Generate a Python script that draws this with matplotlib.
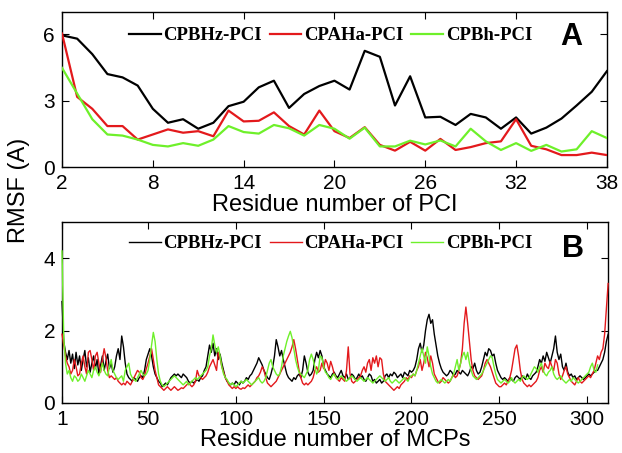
import matplotlib
matplotlib.use("Agg")
import matplotlib.pyplot as plt
import numpy as np

# ---------------- data ----------------
series_names = ["CPBHz-PCI", "CPAHa-PCI", "CPBh-PCI"]
series_colors = ["#000000", "#e3191c", "#6ef02a"]

pci_residues = list(range(2, 39))
pci_cpbhz = [5.95, 5.8, 5.1, 4.2, 4.05, 3.68, 2.63, 2.0, 2.16, 1.73, 2.0, 2.75, 2.95,
             3.6, 3.9, 2.67, 3.3, 3.66, 3.9, 3.5, 5.25, 4.98, 2.78, 4.1, 2.24,
             2.27, 1.9, 2.4, 2.24, 1.73, 2.24, 1.51, 1.78, 2.19, 2.78, 3.4, 4.33]
pci_cpaha = [6.03, 3.17, 2.63, 1.85, 1.85, 1.24, 1.47, 1.7, 1.55, 1.62, 1.39, 2.55, 2.06,
             2.09, 2.47, 1.85, 1.47, 2.55, 1.62, 1.31, 1.8, 1.0, 0.74, 1.14, 0.74,
             1.27, 0.77, 0.9, 1.08, 1.16, 2.16, 0.96, 0.8, 0.54, 0.54, 0.65, 0.54]
pci_cpbh = [4.48, 3.32, 2.16, 1.47, 1.42, 1.24, 1.0, 0.93, 1.08, 0.96, 1.24, 1.85, 1.58,
            1.51, 1.9, 1.75, 1.42, 1.9, 1.73, 1.28, 1.78, 0.93, 0.93, 1.19, 1.02,
            1.2, 0.93, 1.73, 1.16, 0.77, 1.08, 0.73, 1.0, 0.7, 0.8, 1.62, 1.31]

mcp_cpbhz = [
    2.8, 1.7, 1.4, 1.2, 1.45, 1.1, 1.35, 0.95, 1.4, 1.05,
    1.3, 0.9, 1.2, 1.45, 1.0, 1.25, 0.85, 1.1, 1.3, 0.95,
    1.2, 0.8, 1.05, 1.3, 0.9, 1.15, 1.35, 0.95, 1.1, 0.85,
    1.0, 1.3, 1.5, 1.2, 1.85, 1.55, 1.1, 0.8, 0.7, 0.65,
    0.6, 0.7, 0.65, 0.6, 0.7, 0.75, 0.7, 0.9, 1.2, 1.35,
    1.5, 1.3, 1.0, 0.8, 0.7, 0.6, 0.55, 0.45, 0.5, 0.55,
    0.5, 0.6, 0.7, 0.75, 0.8, 0.75, 0.8, 0.75, 0.7, 0.8,
    0.75, 0.7, 0.6, 0.55, 0.6, 0.55, 0.6, 0.65, 0.6, 0.7,
    0.75, 0.9, 1.0, 1.3, 1.6, 1.4, 1.65, 1.3, 1.5, 1.2,
    1.35, 1.1, 0.9, 0.7, 0.6, 0.55, 0.5, 0.55, 0.5, 0.6,
    0.55, 0.5, 0.6, 0.55, 0.6, 0.7, 0.65, 0.75, 0.8, 0.9,
    1.0, 1.1, 1.25, 1.15, 1.05, 0.9, 0.8, 0.7, 0.65, 0.8,
    1.0, 1.3, 1.75, 1.55, 1.3, 1.45, 1.2, 1.0, 0.8, 0.7,
    0.65, 0.6, 0.7, 0.65, 0.75, 0.8, 0.7, 0.9, 1.3, 1.1,
    0.85, 0.75, 0.8, 0.9, 1.2, 1.4, 1.25, 1.45, 1.3, 1.0,
    0.9, 0.8, 0.75, 0.7, 0.8, 0.85, 0.75, 0.7, 0.8, 0.9,
    0.75, 0.7, 0.8, 0.65, 0.7, 0.8, 0.75, 0.65, 0.7, 0.8,
    0.7, 0.75, 0.65, 0.6, 0.7, 0.8, 0.75, 0.6, 0.65, 0.55,
    0.6, 0.65, 0.55, 0.6, 0.75, 0.8, 0.7, 0.8, 0.75, 0.85,
    0.8, 0.7, 0.75, 0.8, 0.7, 0.85, 0.8, 0.75, 0.9, 0.85,
    0.9, 1.0, 1.2, 1.5, 1.65, 1.4, 1.6, 2.0, 2.3, 2.45,
    2.2, 2.3, 1.9, 1.6, 1.3, 1.1, 0.95, 0.85, 0.8, 0.75,
    0.8, 0.9, 0.85, 0.75, 0.8, 0.9, 0.85, 0.8, 0.9, 0.85,
    0.8, 0.75, 0.85, 1.0, 0.95, 1.1, 0.9, 0.8, 0.85, 1.0,
    1.2, 1.4, 1.3, 1.5, 1.45, 1.3, 1.35, 1.1, 0.9, 0.8,
    0.7, 0.65, 0.7, 0.65, 0.6, 0.7, 0.65, 0.6, 0.7, 0.75,
    0.7, 0.65, 0.75, 0.7, 0.65, 0.8, 0.7, 0.65, 0.75, 0.8,
    0.85, 1.0, 1.2, 1.1, 1.3, 1.15, 1.4, 1.25, 1.1, 1.3,
    1.5, 1.85, 1.4, 1.2, 1.35, 1.0, 0.9, 1.1, 0.85, 0.75,
    0.8, 0.7, 0.75, 0.65, 0.7, 0.75, 0.7, 0.65, 0.7, 0.75,
    0.8, 0.75, 0.8, 0.85, 0.9, 0.9, 1.0, 1.1, 1.2, 1.4, 1.7, 1.9]

mcp_cpaha = [
    1.9, 1.6, 1.3, 1.1, 1.0, 0.8, 0.9, 1.2, 1.0, 0.75,
    0.8, 1.1, 1.3, 1.0, 0.8, 1.4, 1.45, 1.2, 0.9, 1.3,
    1.4, 1.1, 0.85, 1.2, 1.5, 1.25, 0.9, 0.7, 0.75, 0.7,
    0.65, 0.7, 0.6, 0.55, 0.5, 0.55, 0.5, 0.6, 0.55, 0.5,
    0.6, 0.7, 0.8, 0.9, 0.85, 0.7, 0.65, 0.75, 0.95, 1.1,
    1.3, 1.5, 1.2, 0.9, 0.7, 0.5, 0.45, 0.4, 0.35, 0.4,
    0.45, 0.4, 0.35, 0.4, 0.45, 0.4, 0.35, 0.38, 0.42, 0.4,
    0.45, 0.5, 0.55, 0.5, 0.45, 0.5, 0.6, 0.9, 0.75, 0.7,
    0.65, 0.7, 0.75, 0.85, 1.0, 1.1, 1.2, 1.05, 0.9, 1.4,
    1.25, 1.0, 0.85, 0.7, 0.6, 0.5, 0.45, 0.4, 0.45, 0.4,
    0.45, 0.4, 0.38, 0.42, 0.4, 0.45, 0.5, 0.45, 0.5, 0.55,
    0.6, 0.7, 0.75, 0.85, 1.0, 0.9, 0.7, 0.55, 0.5, 0.45,
    0.5, 0.55, 0.6, 0.7, 0.8, 0.9, 1.0, 1.1, 1.2, 1.3,
    1.4, 1.55, 1.75, 1.5, 1.2, 0.9, 0.7, 0.55, 0.5, 0.55,
    0.5, 0.55, 0.6, 0.7, 0.9, 1.0, 0.85, 0.9, 1.1, 0.95,
    1.2, 1.1, 0.9, 1.15, 1.0, 0.8, 0.7, 0.65, 0.6, 0.7,
    0.65, 0.6, 0.9, 1.55, 0.8, 0.6, 0.55, 0.6, 0.65, 0.7,
    0.75, 0.9, 1.0, 0.85, 1.1, 1.2, 0.9, 1.25, 1.1, 1.3,
    1.0, 1.25, 1.2, 0.8, 0.6, 0.55, 0.5, 0.45, 0.4, 0.35,
    0.4, 0.45, 0.4, 0.5, 0.55, 0.6, 0.7, 0.65, 0.75, 0.7,
    0.8, 0.75, 0.9, 1.0, 1.2, 0.9, 1.1, 1.4, 1.25, 1.0,
    1.3, 1.1, 0.8, 0.7, 0.6, 0.55, 0.6, 0.7, 0.65, 0.6,
    0.55, 0.6, 0.7, 0.8, 0.7, 0.75, 0.9, 1.1, 1.5, 2.2,
    2.65, 2.2, 1.7, 1.2, 0.9, 0.75, 0.7, 0.65, 0.7, 0.75,
    0.9, 1.1, 1.2, 1.1, 1.0, 0.85, 0.7, 0.55, 0.5, 0.45,
    0.45, 0.5, 0.55, 0.5, 0.6, 0.7, 0.9, 1.2, 1.5, 1.6,
    1.3, 0.9, 0.65, 0.55, 0.5, 0.45, 0.5, 0.45, 0.5, 0.55,
    0.6, 0.7, 0.9, 1.0, 0.85, 1.1, 1.0, 0.95, 1.15, 1.0,
    0.9, 1.2, 1.1, 0.8, 0.65, 0.75, 0.9, 1.0, 0.8, 0.7,
    0.6, 0.55, 0.5, 0.6, 0.7, 0.6, 0.55, 0.6, 0.65, 0.7,
    0.75, 0.7, 0.8, 0.9, 1.1, 1.3, 1.2, 1.4, 1.5, 1.9, 2.6, 3.3]

mcp_cpbh = [
    4.2, 1.8, 1.1, 0.8, 0.9, 0.7, 0.6, 0.75, 0.7, 0.6,
    0.65, 0.8, 0.7, 0.6, 0.75, 0.9, 0.8, 0.7, 0.9, 1.0,
    0.85, 0.75, 0.9, 1.1, 0.9, 0.8, 0.75, 1.0, 1.2, 0.9,
    0.8, 0.7, 0.65, 0.7, 0.75, 0.6, 0.9, 1.0, 1.1, 0.8,
    0.7, 0.65, 0.6, 0.7, 0.8, 0.9, 0.8, 0.75, 0.8, 0.9,
    1.2, 1.6, 1.95, 1.7, 1.2, 0.8, 0.6, 0.5, 0.45, 0.5,
    0.55, 0.6, 0.65, 0.7, 0.75, 0.7, 0.65, 0.6, 0.55, 0.5,
    0.55, 0.6, 0.5, 0.55, 0.6, 0.65, 0.7, 0.65, 0.7, 0.75,
    0.8, 0.85, 0.9, 1.0, 1.3, 1.5, 1.88, 1.6, 1.4, 1.55,
    1.3, 1.0, 0.8, 0.7, 0.65, 0.55, 0.5, 0.55, 0.5, 0.45,
    0.5, 0.55, 0.6, 0.55, 0.6, 0.65, 0.6, 0.55, 0.5, 0.55,
    0.6, 0.65, 0.7, 0.6, 0.55, 0.6, 0.7, 0.9, 1.1, 1.2,
    1.0, 0.9, 0.8, 0.75, 0.8, 1.0, 1.3, 1.5, 1.7, 1.85,
    1.98, 1.8, 1.5, 1.2, 1.0, 0.85, 0.8, 0.75, 0.7, 0.8,
    0.9, 1.2, 1.35, 1.2, 1.0, 0.8, 0.9, 1.3, 1.25, 1.0,
    0.85, 0.8, 0.7, 0.65, 0.75, 0.8, 0.7, 0.65, 0.7, 0.75,
    0.7, 0.65, 0.6, 0.65, 0.7, 0.75, 0.7, 0.65, 0.6, 0.65,
    0.7, 0.65, 0.6, 0.65, 0.7, 0.65, 0.6, 0.55, 0.6, 0.65,
    0.7, 0.75, 0.7, 0.65, 0.6, 0.65, 0.7, 0.6, 0.55, 0.6,
    0.65, 0.6, 0.55, 0.6, 0.65, 0.7, 0.65, 0.6, 0.7, 0.75,
    0.8, 0.75, 0.9, 1.1, 1.3, 1.5, 1.3, 1.1, 1.55, 1.3,
    1.0, 0.8, 0.7, 0.6, 0.55, 0.6, 0.65, 0.6, 0.55, 0.6,
    0.65, 0.6, 0.7, 0.8, 1.0, 1.2, 0.9, 1.1, 1.3, 1.4,
    1.2, 1.4, 1.1, 0.9, 0.75, 0.7, 0.65, 0.7, 0.75, 0.8,
    0.9, 1.0, 1.1, 1.2, 1.3, 1.25, 1.0, 0.8, 0.65, 0.6,
    0.55, 0.6, 0.65, 0.6, 0.55, 0.6, 0.7, 0.6, 0.55, 0.6,
    0.65, 0.6, 0.7, 0.75, 0.7, 0.65, 0.7, 0.8, 0.9, 1.0,
    0.95, 0.85, 1.0, 1.1, 0.9, 0.8, 0.75, 0.85, 0.9, 1.0,
    0.8, 0.7, 0.65, 0.7, 0.75, 0.65, 0.6, 0.55, 0.6, 0.65,
    0.6, 0.7, 0.65, 0.6, 0.55, 0.6, 0.65, 0.7, 0.75, 0.8,
    0.85, 1.0, 1.1, 0.9, 0.85, 1.05]

pci_xticks = [2, 8, 14, 20, 26, 32, 38]
pci_yticks = [0, 3, 6]
mcp_xticks = [1, 50, 100, 150, 200, 250, 300]
mcp_yticks = [0, 2, 4]

# ---------------- plot ----------------
plt.rcParams['font.family'] = ['Liberation Sans', 'DejaVu Sans']

fig = plt.figure(figsize=(6.22, 4.53), dpi=100)
ax1 = fig.add_axes([0.0997, 0.6313, 0.876, 0.342])
ax2 = fig.add_axes([0.0997, 0.1104, 0.878, 0.3996])

pci_data = [pci_cpbhz, pci_cpaha, pci_cpbh]
mcp_data = [mcp_cpbhz, mcp_cpaha, mcp_cpbh]

for name, col, vals in zip(series_names, series_colors, pci_data):
    ax1.plot(pci_residues, vals, color=col, lw=1.6, label=name, zorder=3)
for name, col, vals in zip(series_names, series_colors, mcp_data):
    ax2.plot(np.arange(1, len(vals) + 1), vals, color=col, lw=1.0, label=name,
             zorder=3, clip_on=False)

ax1.set_xlim(2, 38)
ax1.set_ylim(0, 7)
ax1.set_xticks(pci_xticks)
ax1.set_yticks(pci_yticks)
ax2.set_xlim(1, 312)
ax2.set_ylim(0, 5)
ax2.set_xticks(mcp_xticks)
ax2.set_yticks(mcp_yticks)

for ax in (ax1, ax2):
    ax.tick_params(direction='in', top=True, right=True, labelsize=15, length=5,
                   width=0.8, pad=5)
    for sp in ax.spines.values():
        sp.set_linewidth(1.0)

ax1.set_xlabel("Residue number of PCI", fontsize=17, labelpad=1)
ax2.set_xlabel("Residue number of MCPs", fontsize=17, labelpad=0)
fig.text(0.03, 0.58, "RMSF (A)", rotation=90, fontsize=17, ha='center', va='center')

legfont = {'family': 'Liberation Serif', 'weight': 'bold', 'size': 13.5}
ax1.legend(loc='upper left', bbox_to_anchor=(0.095, 1.0), ncol=3, frameon=False,
           prop=legfont, handlelength=1.7, handletextpad=0.15, columnspacing=0.4,
           borderaxespad=0.4)
ax2.legend(loc='upper left', bbox_to_anchor=(0.095, 1.01), ncol=3, frameon=False,
           prop=legfont, handlelength=1.7, handletextpad=0.15, columnspacing=0.4,
           borderaxespad=0.4)

ax1.text(0.935, 0.84, "A", transform=ax1.transAxes, fontsize=22, fontweight='bold',
         ha='center', va='center')
ax2.text(0.935, 0.85, "B", transform=ax2.transAxes, fontsize=22, fontweight='bold',
         ha='center', va='center')

fig.savefig("out.png", dpi=100)
